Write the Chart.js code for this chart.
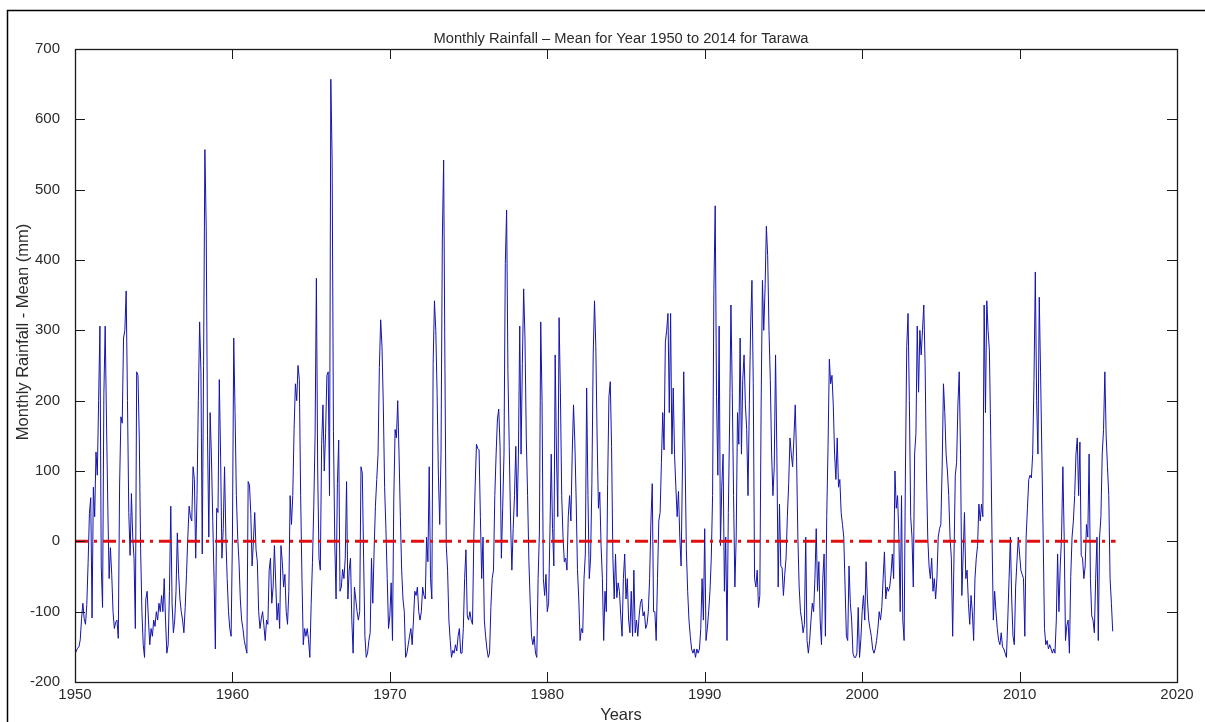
<!DOCTYPE html>
<html>
<head>
<meta charset="utf-8">
<script src="https://cdn.jsdelivr.net/npm/chart.js@4.4.0/dist/chart.umd.min.js"></script>
<style>
  html, body { margin: 0; padding: 0; background: #ffffff; }
  canvas { display: block; }
</style>
</head>
<body>
<canvas id="c" width="1205" height="722"></canvas>
<script>
// ---- Data (monthly rainfall minus long-term mean, mm), Jan of first year onward ----
const startYear = 1950;
const rain1950s = [
  -160,-156,-152,-150,-140,-110,-88,-110,-118,-90,-30,40,
  62,-109,77,35,127,94,200,306,-35,-94,209,306,
  171,50,-53,-9,-47,-100,-124,-115,-112,-138,80,177,
  168,289,300,356,200,41,-20,68,6,-24,-124,241,
  236,147,-10,-100,-147,-165,-82,-71,-112,-147,-124,-135,
  -112,-121,-100,-112,-88,-100,-77,-100,-53,-112,-159,-147,
  -71,50,-88,-130,-112,-71,12,-47,-82,-100,-112,-130,
  -94,-47,6,50,35,29,106,88,-24,65,200,312,
  241,-18,250,557,448,150,6,183,120,30,-53,-153,
  47,41,230,120,-24,18,106,6,-53,-100,-124,-135
];
const rain1960s = [
  6,289,183,65,6,-29,-82,-112,-124,-141,-150,-159,
  85,80,40,-35,0,41,-12,-29,-100,-124,-110,-100,
  -120,-141,-112,-118,-41,-24,-88,-65,-6,-59,-112,-88,
  -124,-6,-29,-65,-47,-100,-118,-71,65,24,65,159,
  224,200,250,230,65,-53,-147,-124,-135,-124,-140,-165,
  -90,-30,50,150,374,100,-24,-41,138,194,100,153,
  236,241,65,657,542,156,0,-82,82,144,-71,-65,
  -40,-53,-24,85,-82,-41,-24,-112,-159,-65,-82,-100,
  -112,-100,106,97,-24,-135,-165,-159,-141,-130,-24,-88,
  -12,50,88,124,247,315,277,194,77,18,-53,-124
];
const rain1970s = [
  -106,-59,-141,60,159,147,200,124,35,-41,-82,-100,
  -165,-159,-147,-135,-124,-147,-112,-71,-77,-65,-100,-112,
  -100,-65,-77,-82,6,-29,106,-53,-82,253,342,300,
  212,94,24,124,430,542,241,-6,-41,-112,-141,-165,
  -155,-159,-147,-156,-135,-124,-159,-159,-124,-53,-12,-106,
  -112,-100,-112,-118,6,77,138,132,130,35,-53,6,
  -112,-135,-153,-165,-159,-94,-53,-41,65,124,174,188,
  135,-24,47,124,395,471,241,135,29,-41,18,65,
  135,35,124,306,124,253,359,289,147,65,-29,-88,
  -135,-147,-135,-159,-165,-53,12,312,200,-53,-77,-47
];
const rain1980s = [
  -100,-88,12,124,18,-35,265,124,35,318,212,65,
  6,-29,-24,-41,35,65,29,124,194,141,60,-40,
  -82,-141,-124,-130,-53,-18,218,65,-53,-24,82,265,
  342,277,147,47,70,-6,-53,-141,-71,-100,82,206,
  227,135,-24,-82,-18,-80,-59,-71,-106,-135,-53,-18,
  -82,-53,-112,-130,-71,-135,-41,-130,-112,-135,-106,-88,
  -82,-106,-100,-124,-118,-100,-53,29,82,-100,-100,-141,
  -53,29,41,112,183,130,283,300,324,183,324,124,
  218,124,77,35,71,6,-35,100,241,124,-12,-71,
  -112,-135,-153,-159,-153,-165,-153,-159,-153,-124,-53,-112
];
const rain1990s = [
  18,-141,-124,-100,-71,-24,65,359,477,206,94,306,
  -6,77,124,-71,6,-141,41,171,336,212,65,-65,
  6,183,138,289,124,230,265,194,159,65,194,306,
  371,224,-53,-65,-41,-94,-77,194,371,300,359,448,
  406,300,230,124,65,106,265,124,-65,53,-35,-38,
  -77,-47,-24,35,82,147,124,106,147,194,120,6,
  -65,-100,-112,-130,-118,6,-141,-159,-141,-112,-88,-100,
  -53,18,-71,-29,-112,-147,-53,-18,-135,35,135,259,
  224,236,194,124,88,147,77,88,41,24,6,-65,
  -135,-141,-35,-88,-112,-159,-165,-165,-159,-94,-165,-140
];
const rain2000s = [
  -100,-77,-112,-29,-82,-112,-124,-135,-153,-159,-153,-141,
  -124,-100,-112,-94,-53,-15,-82,-65,-71,-65,-47,-18,
  -53,100,47,65,6,-100,65,-112,-141,100,277,324,
  200,35,6,-65,124,153,306,212,300,265,300,336,
  250,100,6,-35,-53,-24,-71,-53,-82,-53,6,18,
  24,106,224,183,124,100,65,6,-24,-135,-24,94,
  112,194,241,124,-77,-18,41,-53,-41,-88,-118,-77,
  -100,-141,-53,-24,-6,53,29,53,35,336,183,342,
  300,271,150,6,-112,-71,-100,-124,-141,-147,-130,-150,
  -153,-159,-165,-112,-53,6,-82,-135,-147,-65,-29,6
];
const rain2010s = [
  -18,-41,-47,-53,-135,6,47,88,94,90,124,230,
  383,200,124,347,241,124,6,-124,-147,-141,-153,-147,
  -153,-159,-153,-159,-112,-18,-100,-35,6,106,6,-141,
  -120,-112,-159,-50,6,29,65,124,147,65,141,-20,
  -24,-53,-35,24,6,124,-53,-106,-112,-130,-53,6,
  -141,6,35,124,159,241,150,106,65,-53,-88,-128
];
const meanLine = [0, 0];
const meanSpan = [1950, 2016.1];
const xTicks = [1950, 1960, 1970, 1980, 1990, 2000, 2010, 2020];
const yTicks = [-200, -100, 0, 100, 200, 300, 400, 500, 600, 700];
const titleText = 'Monthly Rainfall \u2013 Mean for Year 1950 to 2014 for Tarawa';
const xTitle = 'Years';
const yTitle = 'Monthly Rainfall - Mean (mm)';

// ---- Build series ----
const allRain = [].concat(rain1950s, rain1960s, rain1970s, rain1980s, rain1990s, rain2000s, rain2010s);
const rainPoints = allRain.map((v, i) => ({ x: startYear + i / 12, y: v }));
const meanPoints = meanSpan.map((x, i) => ({ x: x, y: meanLine[i] }));

const FONT = '"Liberation Sans", Arial, Helvetica, sans-serif';
const TEXT = '#2b2b2b';

const decorPlugin = {
  id: 'decor',
  beforeDraw(chart) {
    const ctx = chart.ctx;
    ctx.save();
    ctx.fillStyle = '#ffffff';
    ctx.fillRect(0, 0, chart.width, chart.height);
    ctx.restore();
  },
  afterDraw(chart) {
    const ctx = chart.ctx;
    const a = chart.chartArea;
    const xs = chart.scales.x, ys = chart.scales.y;
    ctx.save();
    // outer figure border
    ctx.strokeStyle = '#000000';
    ctx.lineWidth = 1.5;
    ctx.beginPath();
    ctx.moveTo(7.5, 722);
    ctx.lineTo(7.5, 10.5);
    ctx.lineTo(1205, 10.5);
    ctx.stroke();
    // axes box
    ctx.strokeStyle = '#1a1a1a';
    ctx.lineWidth = 1.3;
    ctx.strokeRect(Math.round(a.left) + 0.5, Math.round(a.top) + 0.5,
                   Math.round(a.right - a.left), Math.round(a.bottom - a.top));
    // inward ticks
    ctx.lineWidth = 1;
    ctx.strokeStyle = '#1a1a1a';
    const TL = 10;
    ctx.beginPath();
    xTicks.forEach(v => {
      const px = Math.round(xs.getPixelForValue(v)) + 0.5;
      ctx.moveTo(px, a.bottom); ctx.lineTo(px, a.bottom - TL);
      ctx.moveTo(px, a.top); ctx.lineTo(px, a.top + TL);
    });
    yTicks.forEach(v => {
      const py = Math.round(ys.getPixelForValue(v)) + 0.5;
      ctx.moveTo(a.left, py); ctx.lineTo(a.left + TL, py);
      ctx.moveTo(a.right, py); ctx.lineTo(a.right - TL, py);
    });
    ctx.stroke();
    // titles
    ctx.fillStyle = TEXT;
    ctx.textAlign = 'center';
    ctx.textBaseline = 'alphabetic';
    ctx.font = '14.7px ' + FONT;
    ctx.fillText(titleText, 621, 43);
    ctx.font = '16.5px ' + FONT;
    ctx.fillText(xTitle, 621, 720);
    ctx.translate(28, 332);
    ctx.rotate(-Math.PI / 2);
    ctx.fillText(yTitle, 0, 0);
    ctx.restore();
  }
};

new Chart(document.getElementById('c'), {
  type: 'line',
  data: {
    datasets: [
      {
        label: 'Mean',
        data: meanPoints,
        borderColor: '#e01010',
        borderWidth: 3,
        borderDash: [13, 6, 3, 6],
        pointRadius: 0,
        fill: false,
        order: 0
      },
      {
        label: 'Rainfall - Mean',
        data: rainPoints,
        borderColor: 'rgb(20,20,175)',
        borderWidth: 1,
        pointRadius: 0,
        tension: 0,
        fill: false,
        order: 1
      }
    ]
  },
  options: {
    responsive: false,
    animation: false,
    devicePixelRatio: 1,
    layout: { padding: { left: 0, top: 49, right: 28, bottom: 0 } },
    plugins: {
      legend: { display: false },
      title: { display: false },
      tooltip: { enabled: false }
    },
    scales: {
      x: {
        type: 'linear',
        min: 1950,
        max: 2020,
        afterBuildTicks: s => { s.ticks = xTicks.map(v => ({ value: v })); },
        afterFit: s => { s.height = 40; },
        grid: { display: false },
        border: { display: false },
        ticks: {
          autoSkip: false, maxRotation: 0, padding: -4,
          color: TEXT, font: { family: FONT, size: 15 },
          callback: v => String(v)
        }
      },
      y: {
        type: 'linear',
        min: -200,
        max: 700,
        afterBuildTicks: s => { s.ticks = yTicks.map(v => ({ value: v })); },
        afterFit: s => { s.width = 75; },
        grid: { display: false },
        border: { display: false },
        ticks: {
          autoSkip: false, padding: 7,
          color: TEXT, font: { family: FONT, size: 15 },
          callback: v => String(v)
        }
      }
    }
  },
  plugins: [decorPlugin]
});
</script>
</body>
</html>
